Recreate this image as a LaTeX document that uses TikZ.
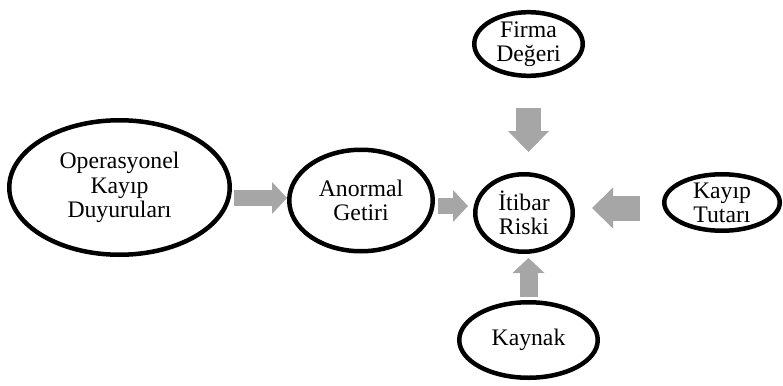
\documentclass[tikz,border=0pt]{standalone}
\usepackage{fontspec}
\setmainfont{Liberation Serif}
\usepackage{xcolor}
\definecolor{arrowGray}{HTML}{A6A6A6}
\usetikzlibrary{shapes.geometric,arrows.meta,calc}
\tikzset{%
  ovalNode/.style={%
    ellipse,
    draw=black,
    line width=4.5pt,
    fill=white,
    inner sep=0pt,
    align=center,
    font=\fontsize{23.7}{24.2}\selectfont
  },
  blockArrow/.style={%
    draw=arrowGray,
    line width=16pt,
    -{Triangle[length=15pt,width=32pt,line width=0pt]}
  },
  wideArrow/.style={%
    draw=arrowGray,
    line width=25pt,
    -{Triangle[length=21pt,width=41pt,line width=0pt]}
  }
}

\begin{document}
\begin{tikzpicture}[x=1pt,y=-1pt]
            \useasboundingbox (0,0) rectangle (783,385);

            \node[ovalNode, minimum width=220.5pt, minimum height=134.5pt] (opDuyuru) at (119.5,187.5) {Operasyonel\\Kayıp\\Duyuruları};
            \node[ovalNode, minimum width=143.5pt, minimum height=101.5pt] (anormal) at (361,200.5) {Anormal\\Getiri};
            \node[ovalNode, minimum width=97.5pt, minimum height=77.5pt] (itibar) at (524,213) {İtibar\\Riski};
            \node[ovalNode, minimum width=108.5pt, minimum height=57.5pt] (firma) at (528.5,44) {Firma\\Değeri};
            \node[ovalNode, minimum width=115.5pt, minimum height=56.5pt] (kayip) at (722,202.5) {Kayıp\\Tutarı};
            \node[ovalNode, minimum width=138.5pt, minimum height=75.5pt] (kaynak) at (528.5,340) {Kaynak};

            \draw[blockArrow, shorten <=2pt] ([yshift=2.5pt]anormal.west -| opDuyuru.east) -- ([yshift=2.5pt]anormal.west);
            \draw[blockArrow, shorten <=3pt, shorten >=5pt] ([yshift=-5.5pt]anormal.east) -- ([yshift=-5.5pt]anormal.east -| itibar.west);
            \draw[wideArrow, shorten <=30pt, shorten >=20pt] (firma.south) -- (firma.south |- itibar.north);
            \draw[wideArrow, shorten <=22pt, shorten >=17pt] ([yshift=-5.5pt]kayip.west) -- ([yshift=-5.5pt]kayip.west -| itibar.east);
            \draw[blockArrow, line width=18pt, shorten <=3pt, shorten >=4pt] (kaynak.north) -- (kaynak.north |- itibar.south);
        \end{tikzpicture}
\end{document}
